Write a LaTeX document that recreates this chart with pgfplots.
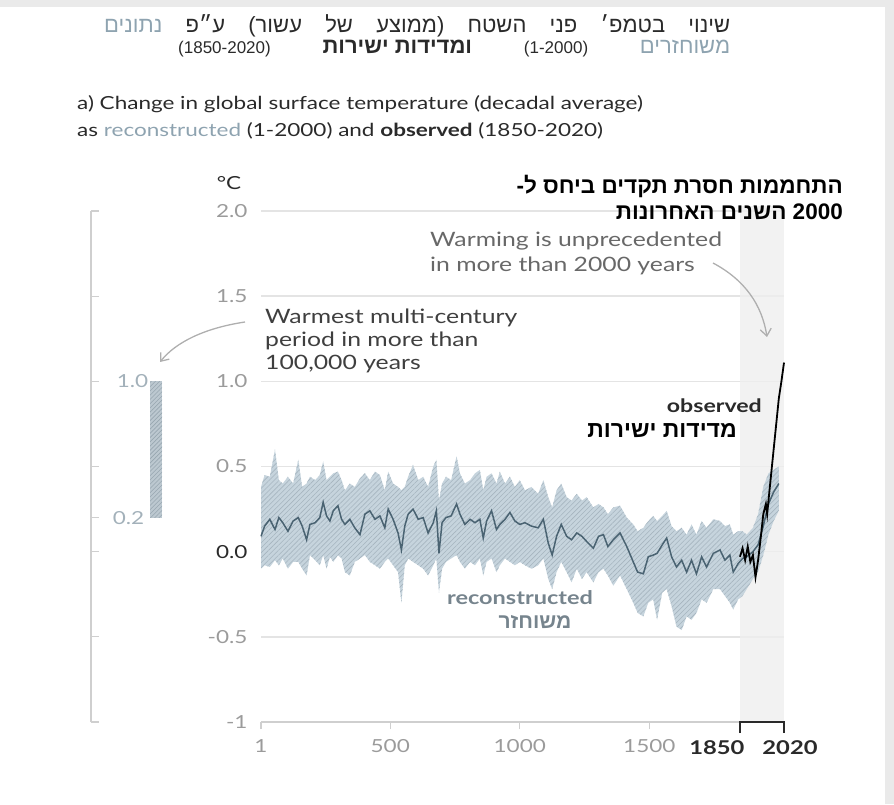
\documentclass[border=0pt]{standalone}
\usepackage{fontspec}
\setmainfont{Lato}[FakeStretch=1.25]
\newfontfamily\heb[Script=Hebrew]{Liberation Sans}
\usepackage{pgfplots}
\pgfplotsset{compat=1.18}
\usepackage{pgfplotstable}
\usetikzlibrary{patterns.meta,arrows.meta}
\TeXXeTstate=1

\definecolor{gridgray}{HTML}{E4E4E4}
\definecolor{axisgray}{HTML}{CFCFCF}
\definecolor{labgray}{HTML}{9B9B9B}
\definecolor{darktext}{HTML}{2A2A2A}
\definecolor{reconline}{HTML}{4A6372}
\definecolor{bandfill}{HTML}{C6D4DD}
\definecolor{hatch}{HTML}{A6B5BF}
\definecolor{shadegray}{HTML}{EFEFEF}
\definecolor{leftlab}{HTML}{A3B1BA}
\definecolor{barfill}{HTML}{BCC8D0}
\definecolor{barhatch}{HTML}{98A7B1}
\definecolor{reconlab}{HTML}{76848D}
\definecolor{recontitle}{HTML}{8EA3B0}
\definecolor{arrowgray}{HTML}{AFAFAF}
\definecolor{midtext}{HTML}{686868}
\definecolor{framegray}{HTML}{EAEAEA}

% reconstructed decadal mean
\pgfplotstableread{
year mean
1 0.09
15 0.15
35 0.19
55 0.13
70 0.20
85 0.17
105 0.12
125 0.18
145 0.20
160 0.15
177 0.07
190 0.16
210 0.17
228 0.20
241 0.29
254 0.21
267 0.18
280 0.24
298 0.27
312 0.19
325 0.16
344 0.19
363 0.14
383 0.10
402 0.22
421 0.24
441 0.19
460 0.21
479 0.14
492 0.25
511 0.19
530 0.11
543 0.01
556 0.15
569 0.22
588 0.25
608 0.19
627 0.20
646 0.11
666 0.17
678 0.24
688 -0.01
700 0.17
715 0.20
735 0.21
756 0.28
769 0.22
788 0.16
808 0.19
827 0.17
846 0.19
859 0.08
872 0.18
891 0.24
910 0.13
923 0.16
943 0.19
962 0.23
981 0.18
1000 0.16
1020 0.17
1045 0.15
1071 0.14
1091 0.19
1110 0.05
1125 -0.02
1142 0.09
1160 0.16
1181 0.09
1200 0.07
1220 0.11
1240 0.09
1258 0.06
1284 0.02
1304 0.09
1323 0.10
1340 0.03
1361 0.07
1387 0.11
1413 0.03
1438 -0.06
1455 -0.12
1477 -0.13
1496 -0.03
1515 -0.02
1530 -0.01
1550 0.04
1567 0.08
1586 -0.03
1605 -0.09
1625 -0.05
1644 -0.12
1663 -0.05
1682 -0.13
1702 -0.03
1721 -0.09
1747 -0.01
1773 0.01
1792 -0.05
1811 -0.02
1824 -0.12
1843 -0.07
1860 -0.04
1876 -0.03
1900 0.00
1920 0.04
1940 0.15
1960 0.28
1980 0.35
2000 0.40
}\recontab

% uncertainty band outline: upper bound forward, lower bound backward
\pgfplotstableread{
year val
1 0.38
15 0.45
35 0.44
55 0.60
70 0.42
85 0.40
105 0.44
125 0.40
145 0.54
160 0.38
177 0.40
190 0.44
210 0.42
228 0.45
241 0.53
254 0.42
267 0.44
280 0.46
298 0.47
312 0.42
325 0.36
344 0.40
363 0.38
383 0.43
402 0.46
421 0.42
441 0.47
460 0.45
479 0.36
492 0.47
511 0.40
530 0.38
543 0.36
556 0.38
569 0.44
588 0.51
608 0.42
627 0.44
646 0.38
666 0.50
678 0.54
688 0.30
700 0.40
715 0.44
735 0.42
756 0.56
769 0.46
788 0.40
808 0.42
827 0.46
846 0.48
859 0.36
872 0.44
891 0.46
910 0.40
923 0.47
943 0.40
962 0.44
981 0.38
1000 0.42
1020 0.36
1045 0.38
1071 0.34
1091 0.42
1110 0.32
1125 0.26
1142 0.36
1160 0.40
1181 0.32
1200 0.30
1220 0.34
1240 0.30
1258 0.32
1284 0.26
1304 0.28
1323 0.26
1340 0.22
1361 0.26
1387 0.27
1413 0.20
1438 0.16
1455 0.12
1477 0.14
1496 0.18
1515 0.21
1530 0.18
1550 0.21
1567 0.24
1586 0.15
1605 0.12
1625 0.14
1644 0.10
1663 0.16
1682 0.10
1702 0.18
1721 0.14
1747 0.19
1773 0.18
1792 0.15
1811 0.16
1824 0.10
1843 0.12
1860 0.12
1876 0.10
1900 0.14
1920 0.22
1940 0.38
1960 0.46
1980 0.48
2000 0.50
2000 0.24
1980 0.18
1960 0.10
1940 -0.02
1920 -0.12
1900 -0.16
1876 -0.22
1860 -0.26
1843 -0.28
1824 -0.34
1811 -0.30
1792 -0.26
1773 -0.22
1747 -0.22
1721 -0.30
1702 -0.28
1682 -0.36
1663 -0.40
1644 -0.38
1625 -0.46
1605 -0.44
1586 -0.32
1567 -0.22
1550 -0.24
1530 -0.40
1515 -0.28
1496 -0.30
1477 -0.38
1455 -0.36
1438 -0.30
1413 -0.22
1387 -0.14
1361 -0.20
1340 -0.14
1323 -0.10
1304 -0.12
1284 -0.18
1258 -0.12
1240 -0.16
1220 -0.10
1200 -0.18
1181 -0.12
1160 -0.06
1142 -0.12
1125 -0.22
1110 -0.16
1091 -0.04
1071 -0.08
1045 -0.10
1020 -0.08
1000 -0.06
981 -0.08
962 -0.06
943 -0.04
923 -0.08
910 -0.12
891 -0.04
872 -0.06
859 -0.14
846 -0.04
827 -0.08
808 -0.06
788 -0.10
769 -0.06
756 -0.02
735 -0.04
715 -0.06
700 -0.10
688 -0.24
678 -0.04
666 -0.08
646 -0.14
627 -0.10
608 -0.08
588 -0.06
569 -0.04
556 -0.08
543 -0.30
530 -0.12
511 -0.08
492 -0.04
479 -0.06
460 -0.10
441 -0.08
421 -0.06
402 -0.02
383 -0.04
363 -0.06
344 -0.14
325 -0.12
312 -0.04
298 -0.02
280 -0.06
267 -0.03
254 -0.10
241 -0.02
228 -0.08
210 -0.05
190 -0.02
177 -0.14
160 -0.10
145 -0.06
125 -0.06
105 -0.10
85 -0.04
70 -0.08
55 -0.05
35 -0.09
15 -0.08
1 -0.10
}\bandtab

\pgfplotstableread{
year val
1850 -0.03
1860 0.02
1870 -0.05
1880 0.03
1890 -0.06
1900 -0.02
1910 -0.15
1920 -0.05
1930 0.08
1940 0.22
1950 0.28
1955 0.22
1960 0.30
1970 0.45
1980 0.60
1990 0.75
2000 0.90
2010 1.00
2020 1.11
}\obstab

\newcommand{\hsz}{\fontsize{22}{24}\selectfont}
\newcommand{\nsz}{\fontsize{17}{20}\selectfont}
\newcommand{\R}[1]{\hbox{\beginR #1\endR}}

\begin{document}
\begin{tikzpicture}
\path[use as bounding box] (0,0) rectangle (894pt,804pt);
\fill[framegray] (0,797pt) rectangle (894pt,804pt);
\fill[framegray] (885pt,0) rectangle (894pt,804pt);

% left reference axis
\begin{axis}[
  at={(91pt,82pt)}, anchor=south west,
  scale only axis, width=80pt, height=511pt,
  xmin=0, xmax=1, ymin=-1, ymax=2,
  clip=false,
  axis y line*=left, axis x line=none,
  y axis line style={draw=axisgray, line width=1.6pt},
  ytick={-1,-0.5,0,0.2,0.5,1,1.5,2},
  yticklabels={,,,,,,,},
  ytick style={draw=axisgray, line width=1.3pt},
  tick align=inside, major tick length=8pt,
]
\addplot[draw=none, fill=barfill] coordinates {(0.7375,0.2) (0.8875,0.2) (0.8875,1.0) (0.7375,1.0)} -- cycle;
\addplot[draw=none, pattern={Lines[angle=45,distance=3pt,line width=0.6pt]}, pattern color=barhatch] coordinates {(0.7375,0.2) (0.8875,0.2) (0.8875,1.0) (0.7375,1.0)} -- cycle;
\node[anchor=west, inner sep=0, text=leftlab, font=\fontsize{18}{18}\selectfont] at (axis cs:0.32,1.0) {1.0};
\node[anchor=west, inner sep=0, text=leftlab, font=\fontsize{18}{18}\selectfont] at (axis cs:0.27,0.2) {0.2};
\end{axis}

% main axis
\begin{axis}[
  at={(261pt,82pt)}, anchor=south west,
  scale only axis, width=523pt, height=511pt,
  xmin=1, xmax=2020, ymin=-1, ymax=2,
  clip=false,
  axis lines*=left, separate axis lines,
  y axis line style={draw=none},
  x axis line style={draw=axisgray, line width=1.6pt},
  xtick={1,500,1000,1500},
  xticklabels={1,500,1000,1500},
  xtick style={draw=axisgray, line width=1.2pt},
  ytick={-1,-0.5,0,0.5,1,1.5,2},
  yticklabels={-1,-0.5,{\textcolor{darktext}{0.0}},0.5,1.0,1.5,2.0},
  ytick style={draw=none},
  tick align=outside, major tick length=7pt,
  ymajorgrids, grid style={draw=gridgray, line width=1.5pt},
  tick label style={font=\fontsize{18}{18}\selectfont, text=labgray},
  yticklabel shift=3pt,
  xticklabel style={yshift=-7pt},
]
\addplot[draw=none, fill=shadegray, fill opacity=0.8, forget plot] coordinates {(1850,-1) (2020,-1) (2020,2.03) (1850,2.03)} -- cycle;
\addplot[draw=none, fill=bandfill, forget plot] table[x=year,y=val]{\bandtab} -- cycle;
\addplot[draw=none, pattern={Lines[angle=45,distance=3.5pt,line width=0.6pt]}, pattern color=hatch, forget plot] table[x=year,y=val]{\bandtab} -- cycle;
\addplot[reconline, line width=1.5pt] table[x=year,y=mean]{\recontab};
\addplot[black, line width=1.8pt] table[x=year,y=val]{\obstab};
\draw[darktext, line width=1.8pt] ([yshift=-11pt]axis cs:1850,-1) -- (axis cs:1850,-1) -- (axis cs:2020,-1) -- ([yshift=-11pt]axis cs:2020,-1);
\node[inner sep=0, text=darktext, font=\bfseries\fontsize{19}{19}\selectfont] at ([xshift=-23pt,yshift=-26pt]axis cs:1850,-1) {1850};
\node[inner sep=0, text=darktext, font=\bfseries\fontsize{19}{19}\selectfont] at ([xshift=6pt,yshift=-26pt]axis cs:2020,-1) {2020};
\end{axis}

\begin{scope}[yshift=804pt, x=1pt, y=-1pt]
% Hebrew title (words set in visual order, each word right-to-left)
\node[anchor=west, inner sep=0, text=darktext] at (104,26) {\heb\hsz\hbox to 626pt{{\color{recontitle}\R{נתונים}}\hfill\R{ע״פ}\hfill)\R{עשור}\hfill\R{של}\hfill\R{ממוצע}(\hfill\R{השטח}\hfill\R{פני}\hfill\R{בטמפ׳}\hfill\R{שינוי}}};
\node[anchor=west, inner sep=0, text=darktext] at (178,49) {\heb\hsz\hbox to 552pt{{\nsz(1850-2020)}\hfill{\bfseries\R{ומדידות ישירות}}\hfill{\nsz(1-2000)}\hfill{\color{recontitle}\R{משוחזרים}}}};
% English title
\node[anchor=west, inner sep=0, text=darktext, font=\fontsize{18}{22}\selectfont] at (77,104) {a) Change in global surface temperature (decadal average)};
\node[anchor=west, inner sep=0, text=darktext, font=\fontsize{18}{22}\selectfont] at (77,131) {as \textcolor{recontitle}{reconstructed} (1-2000) and \textbf{observed} (1850-2020)};
% unit
\node[inner sep=0, text=darktext, font=\fontsize{18}{18}\selectfont] at (229,183) {°C};
% annotations
\node[anchor=west, inner sep=0, text=darktext!90, font=\fontsize{19.8}{20}\selectfont] at (265,318) {Warmest multi-century};
\node[anchor=west, inner sep=0, text=darktext!90, font=\fontsize{19.8}{20}\selectfont] at (265,341) {period in more than};
\node[anchor=west, inner sep=0, text=darktext!90, font=\fontsize{19.8}{20}\selectfont] at (265,364) {100,000 years};
\node[anchor=west, inner sep=0, text=midtext, font=\fontsize{19.8}{20}\selectfont] at (430,241) {Warming is unprecedented};
\node[anchor=west, inner sep=0, text=midtext, font=\fontsize{19.8}{20}\selectfont] at (430,266) {in more than 2000 years};
\node[anchor=east, inner sep=0, text=black] at (843,186) {\heb\bfseries\fontsize{22.5}{22.5}\selectfont\beginR התחממות חסרת תקדים ביחס ל-\endR};
\node[anchor=east, inner sep=0, text=black] at (843,212) {\heb\bfseries\fontsize{22.5}{22.5}\selectfont\beginR\beginL 2000\endL{} השנים האחרונות\endR};
\node[anchor=east, inner sep=0, text=darktext, font=\bfseries\fontsize{18.5}{20}\selectfont] at (762,406) {observed};
\node[anchor=east, inner sep=0, text=black] at (737,431) {\heb\bfseries\fontsize{23}{23}\selectfont\beginR מדידות ישירות\endR};
\node[inner sep=0, text=reconlab, font=\bfseries\fontsize{18.8}{20}\selectfont] at (520,598) {reconstructed};
\node[inner sep=0, text=reconlab] at (535,622) {\heb\bfseries\fontsize{21}{21}\selectfont\beginR משוחזר\endR};
% arrows
\draw[arrowgray, line width=1.3pt, -{Straight Barb[length=7pt,width=11pt]}] (245,322) .. controls (205,328) and (176,342) .. (160,362);
\draw[arrowgray, line width=1.3pt, -{Straight Barb[length=7pt,width=11pt]}] (713,263) .. controls (745,280) and (762,305) .. (767,337);
\end{scope}
\end{tikzpicture}
\end{document}
